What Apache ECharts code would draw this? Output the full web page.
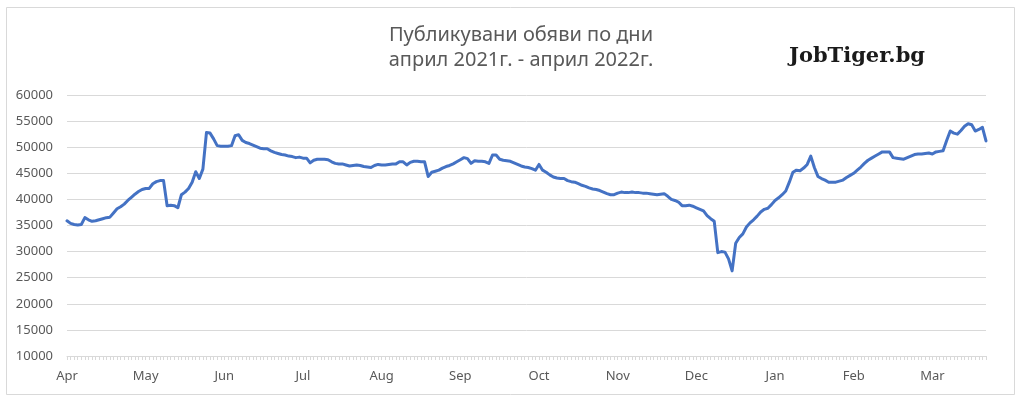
<!DOCTYPE html>
<html>
<head>
<meta charset="utf-8">
<script src="https://cdn.jsdelivr.net/npm/echarts@6/dist/echarts.min.js"></script>
<style>
html,body{margin:0;padding:0;background:#fff;}
#chart{width:1024px;height:401px;}
</style>
</head>
<body>
<div id="chart"></div>
<script>
const titleLines = ['Публикувани обяви по дни', 'април 2021г. - април 2022г.'];
const brand = 'JobTiger.bg';
const monthNames = ['Apr','May','Jun','Jul','Aug','Sep','Oct','Nov','Dec','Jan','Feb','Mar'];
const monthCounts = [22,22,22,22,22,22,22,22,22,22,22,16];
const yTicks = [10000,15000,20000,25000,30000,35000,40000,45000,50000,55000,60000];

const postsApr = [35900,35400,35200,35100,35200,36500,36100,35800,35900,36100,36300,36500,36600,37400,38200,38600,39100,39800,40400,41000,41500,41900];
const postsMay = [42100,42100,43000,43400,43600,43600,38800,38900,38800,38400,40900,41400,42100,43300,45300,44000,45800,52800,52700,51600,50300,50200];
const postsJun = [50200,50200,50300,52200,52400,51300,50900,50700,50400,50100,49800,49700,49700,49300,49000,48800,48600,48500,48300,48200,48000,48100];
const postsJul = [47900,47900,47000,47500,47700,47700,47700,47600,47200,46900,46800,46800,46600,46400,46500,46600,46500,46300,46200,46100,46500,46700];
const postsAug = [46600,46600,46700,46800,46800,47200,47200,46600,47100,47300,47300,47200,47200,44400,45200,45400,45600,46000,46300,46500,46800,47200];
const postsSep = [47600,48000,47800,46900,47400,47300,47300,47200,46900,48500,48500,47700,47500,47400,47300,47000,46700,46400,46200,46100,45900,45600];
const postsOct = [46700,45600,45200,44700,44300,44100,44000,44000,43600,43400,43300,43000,42700,42500,42200,42000,41900,41700,41400,41100,40900,40900];
const postsNov = [41200,41400,41300,41300,41400,41300,41300,41200,41200,41100,41000,40900,41000,41100,40600,40000,39800,39500,38800,38800,38900,38700];
const postsDec = [38400,38100,37800,36900,36300,35800,29800,30000,29900,28600,26300,31600,32700,33400,34700,35500,36100,36800,37600,38100,38300,39000];
const postsJan = [39800,40300,40900,41600,43300,45200,45600,45500,46000,46700,48300,46100,44400,44000,43700,43300,43300,43300,43500,43700,44200,44600];
const postsFeb = [45000,45600,46200,46900,47500,47900,48300,48700,49100,49100,49100,48000,47900,47800,47700,48000,48300,48600,48700,48700,48800,48900];
const postsMar = [48700,49100,49200,49300,51300,53100,52700,52500,53200,54000,54500,54300,53100,53400,53800,51200];

const values = [].concat(postsApr,postsMay,postsJun,postsJul,postsAug,postsSep,postsOct,postsNov,postsDec,postsJan,postsFeb,postsMar);
const categories = [];
monthNames.forEach((m, i) => { for (let d = 1; d <= monthCounts[i]; d++) categories.push(m + ' ' + d); });

const FONT = '"Noto Sans", "Open Sans", sans-serif';
const chart = echarts.init(document.getElementById('chart'), null, {renderer: 'canvas'});
chart.setOption({
  animation: false,
  backgroundColor: '#ffffff',
  grid: {left: 67, right: 38, top: 95, bottom: 45, containLabel: false},
  graphic: [
    {type: 'rect', shape: {x: 6.5, y: 7.5, width: 1008, height: 387}, style: {fill: 'none', stroke: '#d9d9d9', lineWidth: 1}, silent: true},
    {type: 'text', x: 521, y: 35, style: {text: titleLines[0], fill: '#595959', font: '20px ' + FONT, align: 'center', verticalAlign: 'middle'}},
    {type: 'text', x: 521, y: 60, style: {text: titleLines[1], fill: '#595959', font: '20px ' + FONT, align: 'center', verticalAlign: 'middle'}},
    {type: 'text', x: 857, y: 57, style: {text: brand, fill: '#1a1a1a', font: 'bold 21px "DejaVu Serif", serif', align: 'center', verticalAlign: 'middle'}}
  ],
  xAxis: {
    type: 'category',
    data: categories,
    boundaryGap: false,
    axisLine: {show: true, lineStyle: {color: '#d9d9d9', width: 1}},
    axisTick: {show: true, interval: 0, length: 4, lineStyle: {color: '#d9d9d9'}},
    axisLabel: {
      interval: (idx, val) => val.endsWith(' 1'),
      formatter: v => v.split(' ')[0],
      color: '#595959', fontFamily: FONT, fontSize: 13, margin: 14
    },
    splitLine: {show: false}
  },
  yAxis: {
    type: 'value',
    min: yTicks[0], max: yTicks[yTicks.length - 1], interval: yTicks[1] - yTicks[0],
    axisLine: {show: false}, axisTick: {show: false},
    axisLabel: {color: '#595959', fontFamily: FONT, fontSize: 13, margin: 14, formatter: v => String(v)},
    splitLine: {lineStyle: {color: '#d9d9d9', width: 1}}
  },
  series: [{
    type: 'line', data: values, showSymbol: false, symbol: 'none',
    lineStyle: {color: '#4472c4', width: 3, join: 'round', cap: 'round'},
    itemStyle: {color: '#4472c4'}
  }]
});
</script>
</body>
</html>
